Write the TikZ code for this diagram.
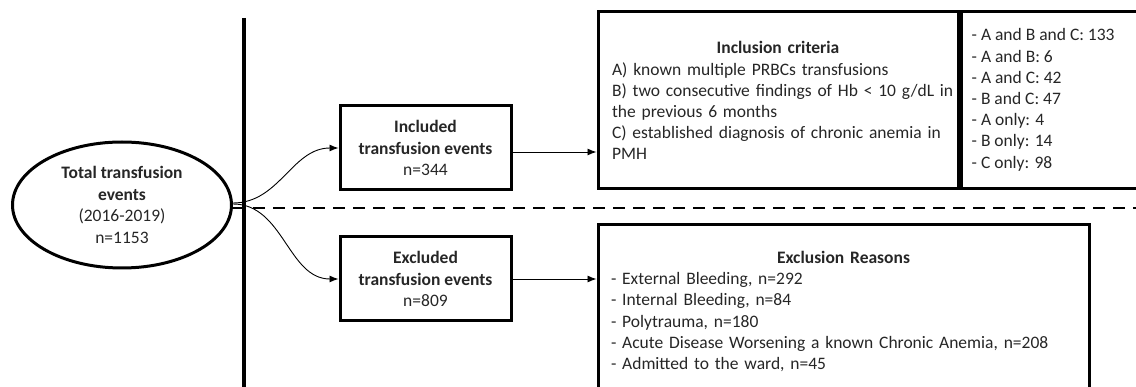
\documentclass[tikz,border=0pt]{standalone}
\usepackage{fontspec}
\setmainfont{Carlito}
\usetikzlibrary{shapes.geometric,arrows.meta}
\begin{document}
\begin{tikzpicture}[x=1pt,y=-1pt,
  txt/.style={font=\fontsize{17.5}{21.2}\selectfont, text=black!85},
  big/.style={font=\fontsize{17.5}{21.6}\selectfont, text=black!85},
  box/.style={draw,line width=3pt,rectangle,inner sep=0pt},
  conn/.style={line width=0.9pt,-{Latex[length=9pt,width=7pt]}}]
\useasboundingbox (0,0) rectangle (1136,387);
\clip (0,0) rectangle (1136,387);
% vertical axis
\coordinate (vtop) at (244,18);
\coordinate (vbot) at (244,395);
\draw[line width=4pt] (vtop) -- (vbot);
% total ellipse
\node[ellipse,draw,line width=3pt,minimum width=219pt,minimum height=126pt,inner sep=0pt,big,align=center] (total) at (122,205)
  {\textbf{Total transfusion}\\\textbf{events}\\(2016-2019)\\n=1153};
% dashed separator
\coordinate (dend) at (1140,208);
\draw[line width=1.5pt,dash pattern=on 12pt off 8pt] ([yshift=-3pt]total.east) -- (dend |- 0,208);
% included / excluded
\node[box,big,minimum width=171pt,minimum height=84pt,align=center] (inc) at (425.5,148)
  {\textbf{Included}\\\textbf{transfusion events}\\n=344};
\node[box,big,minimum width=171pt,minimum height=84pt,align=center] (exc) at (425.5,279)
  {\textbf{Excluded}\\\textbf{transfusion events}\\n=809};
% inclusion criteria
\node[box,minimum width=360pt,minimum height=177pt] (crit) at (778,100.5) {};
\node[txt,text width=332pt,anchor=north,inner sep=0pt] (crittxt) at ([yshift=-31pt]crit.north)
  {\centering\textbf{Inclusion criteria}\par\raggedright
   \mbox{A) known multiple PRBCs transfusions}\\
   \mbox{B) two consecutive findings of Hb < 10 g/dL in}\\
   \mbox{the previous 6 months}\\
   \mbox{C) established diagnosis of chronic anemia in}\\
   PMH};
\node[box,minimum width=200pt,minimum height=177pt,anchor=west] (counts) at (crit.east) {};
\node[txt,anchor=north west,inner sep=0pt,align=left] (countstxt) at ([xshift=12pt,yshift=-18pt]counts.north west)
  {- A and B and C: 133\\
   - A and B: 6\\
   - A and C: 42\\
   - B and C: 47\\
   - A only: 4\\
   - B only: 14\\
   - C only: 98};
% exclusion reasons
\node[box,minimum width=491pt,minimum height=185pt,anchor=north] (reasons) at (843.5,223) {};
\node[txt,text width=465pt,anchor=north,inner sep=0pt] (reasonstxt) at ([yshift=-28pt]reasons.north)
  {\centering\textbf{Exclusion Reasons}\par\raggedright
   - External Bleeding, n=292\\
   - Internal Bleeding, n=84\\
   - Polytrauma, n=180\\
   \mbox{- Acute Disease Worsening a known Chronic Anemia, n=208}\\
   - Admitted to the ward, n=45};
% connectors
\draw[conn] ([yshift=2pt]total.east) to[out=0,in=180] (inc.west);
\draw[conn] ([yshift=1pt]total.east) to[out=0,in=180] (exc.west);
\draw[conn] ([yshift=-4pt]inc.east) -- (crit.west |- 0,152);
\draw[conn] (exc.east) -- (reasons.west |- exc.east);
\end{tikzpicture}
\end{document}
